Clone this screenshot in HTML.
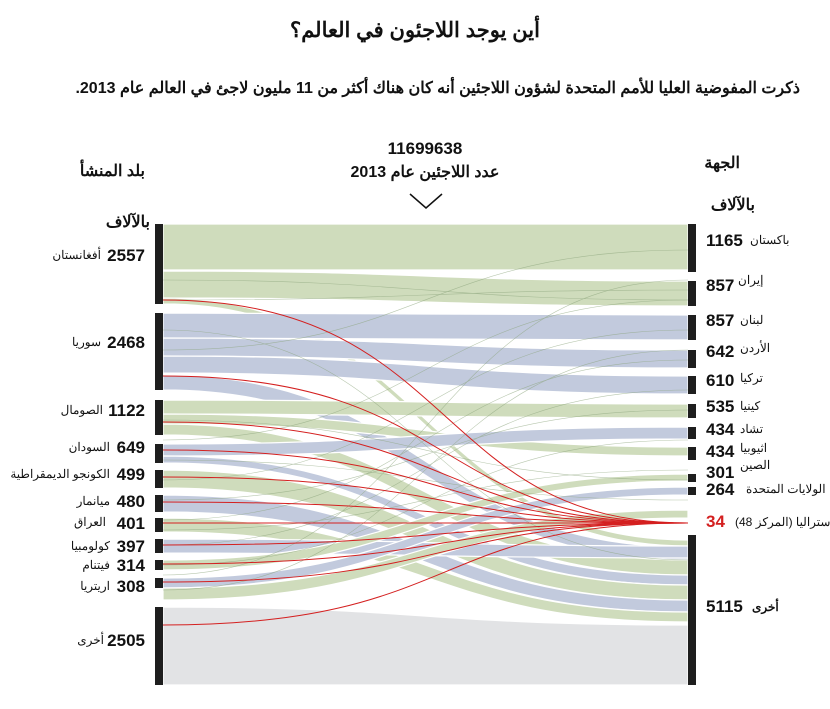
<!DOCTYPE html>
<html><head><meta charset="utf-8"><style>
body{margin:0;background:#fff}
svg{display:block;font-family:"Liberation Sans","Noto Sans CJK SC",sans-serif}
.n{font-weight:bold;font-size:17px;fill:#111}
.c{font-size:12px;fill:#111}
</style></head><body>
<svg width="830" height="709" viewBox="0 0 830 709" xmlns="http://www.w3.org/2000/svg">
<text x="415" y="37" text-anchor="middle" font-weight="bold" font-size="21" fill="#111" direction="rtl">أين يوجد اللاجئون في العالم؟</text>
<text x="800" y="93" text-anchor="start" font-weight="bold" font-size="16" fill="#111" direction="rtl">ذكرت المفوضية العليا للأمم المتحدة لشؤون اللاجئين أنه كان هناك أكثر من 11 مليون لاجئ في العالم عام 2013.</text>
<text x="425" y="154" text-anchor="middle" font-weight="bold" font-size="17" fill="#111">11699638</text>
<text x="425" y="177" text-anchor="middle" font-size="16" font-weight="bold" fill="#111" direction="rtl">عدد اللاجئين عام 2013</text>
<polyline points="410,194 426,208 442,194" fill="none" stroke="#111" stroke-width="1.5"/>
<text x="145" y="176" text-anchor="start" font-size="16" font-weight="bold" fill="#111" direction="rtl">بلد المنشأ</text>
<text x="740" y="168" text-anchor="start" font-size="16" font-weight="bold" fill="#111" direction="rtl">الجهة</text>
<text x="150" y="227" text-anchor="start" font-weight="bold" font-size="16" fill="#111" direction="rtl">بالآلاف</text>
<text x="755" y="210" text-anchor="start" font-weight="bold" font-size="16" fill="#111" direction="rtl">بالآلاف</text>
<g stroke="#fff" stroke-width="1.2">
<path d="M163,607C425,607 425,625 688,625L688,685C425,685 425,685 163,685Z" fill="#e2e3e5"/>
<path d="M163,224C425,224 425,224 688,224L688,270C425,270 425,270 163,270Z" fill="#cfdcbc"/>
<path d="M163,271C425,271 425,281 688,281L688,306C425,306 425,298 163,298Z" fill="#cfdcbc"/>
<path d="M163,298C425,298 425,540 688,540L688,546C425,546 425,304 163,304Z" fill="#cfdcbc"/>
<path d="M163,313C425,313 425,315 688,315L688,340C425,340 425,338 163,338Z" fill="#c2cadd"/>
<path d="M163,338C425,338 425,350 688,350L688,368C425,368 425,356 163,356Z" fill="#c2cadd"/>
<path d="M163,356C425,356 425,376 688,376L688,394C425,394 425,373 163,373Z" fill="#c2cadd"/>
<path d="M163,375C425,375 425,547 688,547L688,560C425,560 425,390 163,390Z" fill="#c2cadd"/>
<path d="M163,400C425,400 425,404 688,404L688,418C425,418 425,414 163,414Z" fill="#cfdcbc"/>
<path d="M163,414C425,414 425,447 688,447L688,456C425,456 425,424 163,424Z" fill="#cfdcbc"/>
<path d="M163,424C425,424 425,560 688,560L688,575C425,575 425,435 163,435Z" fill="#cfdcbc"/>
<path d="M163,444C425,444 425,427 688,427L688,439C425,439 425,456 163,456Z" fill="#c2cadd"/>
<path d="M163,456C425,456 425,575 688,575L688,585C425,585 425,463 163,463Z" fill="#c2cadd"/>
<path d="M163,470C425,470 425,585 688,585L688,600C425,600 425,488 163,488Z" fill="#cfdcbc"/>
<path d="M163,495C425,495 425,600 688,600L688,612C425,612 425,512 163,512Z" fill="#c2cadd"/>
<path d="M163,518C425,518 425,612 688,612L688,622C425,622 425,532 163,532Z" fill="#cfdcbc"/>
<path d="M163,539C425,539 425,546 688,546L688,558C425,558 425,553 163,553Z" fill="#c2cadd"/>
<path d="M163,560C425,560 425,474 688,474L688,481C425,481 425,570 163,570Z" fill="#cfdcbc"/>
<path d="M163,578C425,578 425,487 688,487L688,495C425,495 425,588 163,588Z" fill="#c2cadd"/>
<path d="M163,588C425,588 425,510 688,510L688,518C425,518 425,600 163,600Z" fill="#cfdcbc"/>
</g>
<g fill="none" stroke="#8aa37a" stroke-width="0.6" opacity="0.6">
<path d="M163,280C425,280 425,300 688,300"/><path d="M163,300C425,300 425,290 688,290"/>
<path d="M163,330C425,330 425,560 688,560"/><path d="M163,350C425,350 425,250 688,250"/>
<path d="M163,420C425,420 425,480 688,480"/><path d="M163,440C425,440 425,300 688,300"/>
<path d="M163,460C425,460 425,500 688,500"/><path d="M163,480C425,480 425,330 688,330"/>
<path d="M163,500C425,500 425,410 688,410"/><path d="M163,520C425,520 425,360 688,360"/>
<path d="M163,530C425,530 425,470 688,470"/><path d="M163,545C425,545 425,390 688,390"/>
<path d="M163,565C425,565 425,440 688,440"/><path d="M163,575C425,575 425,280 688,280"/>
<path d="M163,590C425,590 425,350 688,350"/>
</g>
<g fill="none" stroke="#d42020" stroke-width="1">
<path d="M163,300C460,300 430,523 688,523"/><path d="M163,376C460,376 430,523 688,523"/>
<path d="M163,422C460,422 430,523 688,523"/><path d="M163,450C460,450 430,523 688,523"/>
<path d="M163,477C460,477 430,523 688,523"/><path d="M163,502C460,502 430,523 688,523"/>
<path d="M163,523C460,523 430,523 688,523"/><path d="M163,545C460,545 430,523 688,523"/>
<path d="M163,564C460,564 430,523 688,523"/><path d="M163,582C460,582 430,523 688,523"/>
<path d="M163,625C460,625 430,523 688,523"/>
</g>
<g fill="#1e1e1e">
<rect x="155" y="224" width="8" height="80"/><rect x="155" y="313" width="8" height="77"/>
<rect x="155" y="400" width="8" height="35"/><rect x="155" y="444" width="8" height="19"/>
<rect x="155" y="470" width="8" height="18"/><rect x="155" y="495" width="8" height="17"/>
<rect x="155" y="518" width="8" height="14"/><rect x="155" y="539" width="8" height="14"/>
<rect x="155" y="560" width="8" height="10"/><rect x="155" y="578" width="8" height="10"/>
<rect x="155" y="607" width="8" height="78"/>
<rect x="688" y="224" width="8" height="48"/><rect x="688" y="281" width="8" height="25"/>
<rect x="688" y="315" width="8" height="25"/><rect x="688" y="350" width="8" height="18"/>
<rect x="688" y="376" width="8" height="18"/><rect x="688" y="404" width="8" height="14"/>
<rect x="688" y="427" width="8" height="12"/><rect x="688" y="447" width="8" height="13"/>
<rect x="688" y="474" width="8" height="8"/><rect x="688" y="487" width="8" height="8"/>
<rect x="688" y="535" width="8" height="150"/>
</g>
<g direction="ltr">
<text class="n" x="145" y="261" text-anchor="end">2557</text><text class="c" x="101" y="259" text-anchor="end">أفغانستان</text>
<text class="n" x="145" y="348" text-anchor="end">2468</text><text class="c" x="101" y="346" text-anchor="end">سوريا</text>
<text class="n" x="145" y="416" text-anchor="end">1122</text><text class="c" x="103" y="414" text-anchor="end">الصومال</text>
<text class="n" x="145" y="453" text-anchor="end">649</text><text class="c" x="110" y="451" text-anchor="end">السودان</text>
<text class="n" x="145" y="480" text-anchor="end">499</text><text class="c" x="110" y="478" text-anchor="end">الكونجو الديمقراطية</text>
<text class="n" x="145" y="507" text-anchor="end">480</text><text class="c" x="110" y="505" text-anchor="end">ميانمار</text>
<text class="n" x="145" y="529" text-anchor="end">401</text><text class="c" x="106" y="526" text-anchor="end">العراق</text>
<text class="n" x="145" y="552" text-anchor="end">397</text><text class="c" x="110" y="550" text-anchor="end">كولومبيا</text>
<text class="n" x="145" y="571" text-anchor="end">314</text><text class="c" x="110" y="569" text-anchor="end">فيتنام</text>
<text class="n" x="145" y="592" text-anchor="end">308</text><text class="c" x="110" y="590" text-anchor="end">اريتريا</text>
<text class="n" x="145" y="646" text-anchor="end">2505</text><text class="c" x="104" y="644" text-anchor="end">أخرى</text>
<text class="n" x="706" y="246">1165</text><text class="c" x="750" y="244">باكستان</text>
<text class="n" x="706" y="291">857</text><text class="c" x="738" y="284">إيران</text>
<text class="n" x="706" y="326">857</text><text class="c" x="740" y="324">لبنان</text>
<text class="n" x="706" y="357">642</text><text class="c" x="740" y="352">الأردن</text>
<text class="n" x="706" y="386">610</text><text class="c" x="740" y="382">تركيا</text>
<text class="n" x="706" y="412">535</text><text class="c" x="740" y="410">كينيا</text>
<text class="n" x="706" y="435">434</text><text class="c" x="740" y="433">تشاد</text>
<text class="n" x="706" y="457">434</text><text class="c" x="740" y="452">اثيوبيا</text>
<text class="n" x="706" y="478">301</text><text class="c" x="740" y="469">الصين</text>
<text class="n" x="706" y="495">264</text><text class="c" x="746" y="493">الولايات المتحدة</text>
<text class="n" x="706" y="527" style="fill:#d42020">34</text><text class="c" x="735" y="526" font-size="11">أستراليا (المركز 48)</text>
<text class="n" x="706" y="612" font-size="18">5115</text><text class="c" x="752" y="611" font-size="14" font-weight="bold">أخرى</text>
</g>
</svg>
</body></html>
